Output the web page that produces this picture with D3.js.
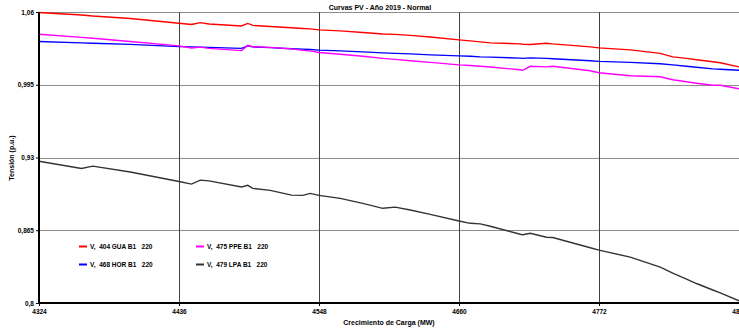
<!DOCTYPE html>
<meta charset="utf-8">
<head>
  <title>Curvas PV - Año 2019 - Normal</title>
</head>
<style>
  html, body {
    margin: 0;
    padding: 0;
    overflow: hidden;
    background: #fff;
    font-family: "Liberation Sans", Arial, Helvetica, sans-serif;
  }
  text {
    font-weight: bold;
    fill: #000;
  }
</style>
<body>
<script src="https://d3js.org/d3.v7.min.js" charset="utf-8"></script>
<script>
var load_mw = [4324, 4358, 4367, 4397, 4436, 4446, 4453, 4460, 4486, 4491, 4495, 4509,
  4526, 4535, 4541, 4548, 4565, 4583, 4599, 4609, 4621, 4637, 4660, 4669, 4677, 4685,
  4709, 4711, 4717, 4730, 4735, 4765, 4772, 4797, 4821, 4831, 4842, 4850, 4863, 4869, 4884];

var v_404_gua = [1.0596, 1.0573, 1.0564, 1.0542, 1.0499, 1.0489, 1.0505, 1.0493, 1.0475, 1.0498, 1.0480, 1.0471,
  1.0459, 1.0453, 1.0449, 1.0440, 1.0431, 1.0417, 1.0404, 1.0400, 1.0391, 1.0377, 1.0351, 1.0342, 1.0333, 1.0324,
  1.0315, 1.0312, 1.0310, 1.0321, 1.0315, 1.0288, 1.0279, 1.0262, 1.0230, 1.0199, 1.0186, 1.0173, 1.0155, 1.0146, 1.0110];

var v_468_hor = [1.0336, 1.0324, 1.0321, 1.0311, 1.0291, 1.0288, 1.0286, 1.0284, 1.0275, 1.0297, 1.0288, 1.0282,
  1.0272, 1.0268, 1.0265, 1.0259, 1.0253, 1.0244, 1.0235, 1.0230, 1.0226, 1.0217, 1.0208, 1.0204, 1.0199, 1.0197,
  1.0188, 1.0186, 1.0190, 1.0186, 1.0182, 1.0164, 1.0159, 1.0150, 1.0137, 1.0128, 1.0115, 1.0106, 1.0092, 1.0088, 1.0079];

var v_475_ppe = [1.0401, 1.0373, 1.0366, 1.0337, 1.0297, 1.0279, 1.0286, 1.0275, 1.0255, 1.0302, 1.0290, 1.0284,
  1.0271, 1.0257, 1.0253, 1.0238, 1.0222, 1.0204, 1.0186, 1.0177, 1.0165, 1.0150, 1.0128, 1.0122, 1.0115, 1.0108,
  1.0084, 1.0079, 1.0115, 1.0110, 1.0115, 1.0075, 1.0057, 1.0030, 1.0021, 0.9995, 0.9977, 0.9964, 0.9946, 0.9946, 0.9914];

var v_479_lpa = [0.9267, 0.9202, 0.9223, 0.9171, 0.9086, 0.9062, 0.9098, 0.9091, 0.9037, 0.9051, 0.9024, 0.9006,
  0.8964, 0.8962, 0.8979, 0.8962, 0.8935, 0.8890, 0.8846, 0.8857, 0.8831, 0.8792, 0.8733, 0.8712, 0.8707, 0.8686,
  0.8614, 0.8610, 0.8623, 0.8588, 0.8585, 0.8494, 0.8472, 0.8410, 0.8321, 0.8267, 0.8214, 0.8174, 0.8116, 0.8090, 0.8019];

var series_names = ['V,  404 GUA B1   220', 'V,  468 HOR B1   220', 'V,  475 PPE B1   220', 'V,  479 LPA B1   220'];
var series_values = [v_404_gua, v_468_hor, v_475_ppe, v_479_lpa];
var series_colors = ['#ff0000', '#0000ff', '#ff00ff', '#333333'];

var x_ticks = [4324, 4436, 4548, 4660, 4772, 4884];
var y_ticks = [0.8, 0.865, 0.93, 0.995, 1.06];

var W = 739, H = 329;
var plot = {left: 39, right: 739, top: 12, bottom: 303};

var svg = d3.select('body').append('svg')
  .attr('width', W)
  .attr('height', H);

var x = d3.scaleLinear().domain([4324, 4884]).range([plot.left, plot.right]);
var y = d3.scaleLinear().domain([0.8, 1.06]).range([plot.bottom, plot.top]);

var locale = d3.formatLocale({decimal: ',', thousands: '.', grouping: [3], currency: ['', '']});
var yfmt = locale.format('~g');

// horizontal grid
svg.append('g').selectAll('line').data(y_ticks).enter().append('line')
  .attr('x1', plot.left).attr('x2', plot.right)
  .attr('y1', function(d) { return Math.round(y(d)) + 0.5; })
  .attr('y2', function(d) { return Math.round(y(d)) + 0.5; })
  .attr('stroke', '#8c8c8c').attr('stroke-width', 1);

// vertical grid
svg.append('g').selectAll('line').data(x_ticks.slice(1)).enter().append('line')
  .attr('x1', function(d) { return Math.round(x(d)) + 0.5; })
  .attr('x2', function(d) { return Math.round(x(d)) + 0.5; })
  .attr('y1', plot.top).attr('y2', plot.bottom)
  .attr('stroke', '#404040').attr('stroke-width', 1);

// series
var line = d3.line()
  .x(function(d, i) { return x(load_mw[i]); })
  .y(function(d) { return y(d); });

svg.append('g').selectAll('path').data(series_values).enter().append('path')
  .attr('d', line)
  .attr('fill', 'none')
  .attr('stroke', function(d, i) { return series_colors[i]; })
  .attr('stroke-width', 1.4);

// axes
var yAxis = d3.axisLeft(y).tickValues(y_ticks).tickFormat(yfmt).tickSize(3).tickPadding(2);
var gy = svg.append('g').attr('transform', 'translate(' + plot.left + ',0)').call(yAxis);
var xAxis = d3.axisBottom(x).tickValues(x_ticks).tickFormat(d3.format('d')).tickSize(3).tickPadding(3);
var gx = svg.append('g').attr('transform', 'translate(0,' + plot.bottom + ')').call(xAxis);

[gx, gy].forEach(function(g) {
  g.select('.domain').attr('stroke', '#000').attr('stroke-width', 2);
  g.selectAll('.tick line').attr('stroke', '#000').attr('stroke-width', 1);
  g.selectAll('.tick text')
    .style('font-family', '"Liberation Sans", Arial, sans-serif')
    .style('font-size', '6.5px')
    .style('font-weight', 'bold')
    .attr('fill', '#000');
});
gy.select('.domain').attr('d', 'M0,' + plot.top + 'V' + plot.bottom);
gx.select('.domain').attr('d', 'M' + plot.left + ',0H' + plot.right);

// titles
svg.append('text')
  .attr('x', 380).attr('y', 10)
  .attr('text-anchor', 'middle')
  .style('font-size', '7px')
  .text('Curvas PV - Año 2019 - Normal');

svg.append('text')
  .attr('x', 389).attr('y', 325)
  .attr('text-anchor', 'middle')
  .style('font-size', '7px')
  .text('Crecimiento de Carga (MW)');

svg.append('text')
  .attr('transform', 'translate(14,158) rotate(-90)')
  .attr('text-anchor', 'middle')
  .style('font-size', '7px')
  .text('Tensión (p.u.)');

// legend
var legend_pos = [[79, 246.5], [79, 264.5], [196, 246.5], [196, 264.5]];
var lg = svg.append('g').selectAll('g').data(series_names).enter().append('g')
  .attr('transform', function(d, i) { return 'translate(' + legend_pos[i][0] + ',' + legend_pos[i][1] + ')'; });
lg.append('line')
  .attr('x1', 0).attr('x2', 8)
  .attr('stroke', function(d, i) { return series_colors[i]; })
  .attr('stroke-width', 2);
lg.append('text')
  .attr('x', 11).attr('y', 2.3)
  .attr('xml:space', 'preserve')
  .style('white-space', 'pre')
  .style('font-size', '6.5px')
  .text(function(d) { return d; });
</script>
</body>
